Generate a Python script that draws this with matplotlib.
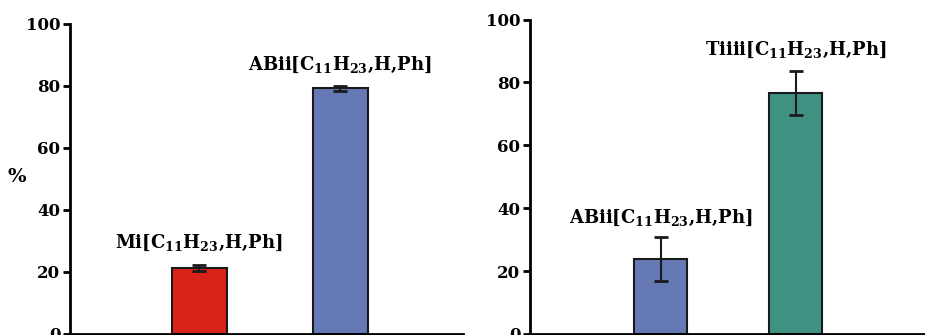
import matplotlib
matplotlib.use("Agg")
import matplotlib.pyplot as plt

plt.rcParams['font.family'] = ['DejaVu Serif']
plt.rcParams['font.weight'] = 'bold'
plt.rcParams['mathtext.fontset'] = 'custom'
plt.rcParams['mathtext.rm'] = 'DejaVu Serif:bold'
plt.rcParams['mathtext.bf'] = 'DejaVu Serif:bold'
plt.rcParams['mathtext.it'] = 'DejaVu Serif:bold'

# Data
left_labels = [r"Mi[C$_{\mathbf{11}}$H$_{\mathbf{23}}$,H,Ph]", r"ABii[C$_{\mathbf{11}}$H$_{\mathbf{23}}$,H,Ph]"]
left_values = [21.3, 79.2]
left_errors = [1.0, 0.7]
left_colors = ["#d8221a", "#6579b5"]

right_labels = [r"ABii[C$_{\mathbf{11}}$H$_{\mathbf{23}}$,H,Ph]", r"Tiiii[C$_{\mathbf{11}}$H$_{\mathbf{23}}$,H,Ph]"]
right_values = [23.8, 76.6]
right_errors = [7.0, 7.0]
right_colors = ["#6579b5", "#3f9282"]

yticks = [0, 20, 40, 60, 80, 100]

fig = plt.figure(figsize=(9.25, 3.35), dpi=100)
ax1 = fig.add_axes([70/925, 1/335, 393/925, 310/335])
ax2 = fig.add_axes([530/925, 1/335, 395/925, 314.5/335])

def draw(ax, labels, values, errors, colors, label_y, xlim):
    x = [1, 2]
    ax.bar(x, values, width=0.39, color=colors, edgecolor="#1a1a1a", linewidth=1.5,
           yerr=errors, error_kw=dict(ecolor="#1a1a1a", elinewidth=1.5, capsize=5, capthick=2))
    for xi, lab, ly in zip(x, labels, label_y):
        ax.text(xi, ly, lab, ha="center", va="center", fontsize=13, fontweight="bold")
    ax.set_ylim(0, 100)
    ax.set_xlim(*xlim)
    ax.set_yticks(yticks)
    ax.set_yticklabels([str(t) for t in yticks], fontsize=12, fontweight="bold")
    ax.set_xticks([])
    for s in ["top", "right"]:
        ax.spines[s].set_visible(False)
    ax.spines["left"].set_linewidth(2)
    ax.spines["bottom"].set_linewidth(2)
    ax.tick_params(axis="y", length=5, width=2, pad=2)

draw(ax1, left_labels, left_values, left_errors, left_colors, [29.5, 86.8], (0.085, 2.87))
draw(ax2, right_labels, right_values, right_errors, right_colors, [37.0, 90.3], (0.03, 2.96))

fig.text(17/925, 1 - 177/335, "%", fontsize=14, fontweight="bold", ha="center", va="center")

fig.savefig("out.png", dpi=100)
